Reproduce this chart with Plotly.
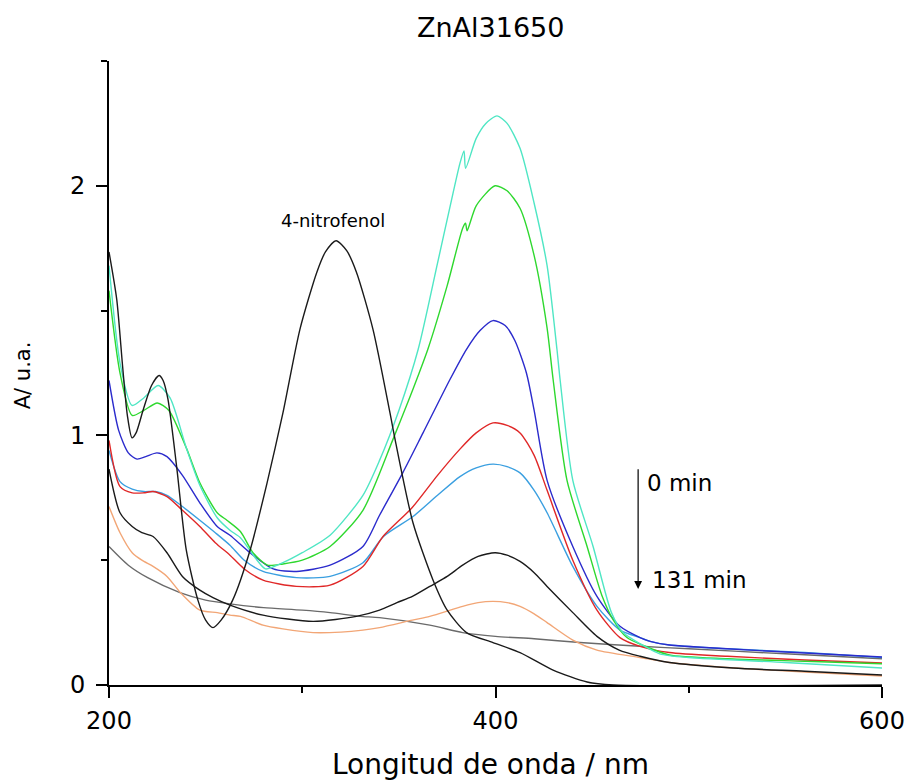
import plotly.graph_objects as go

# ---------------- data (wavelength nm, absorbance) ----------------
nitro_x = [200, 204, 207, 209.5, 211.9, 214, 217.6, 222, 225.9, 228, 230.5, 235, 240, 246, 250, 253.8, 258, 264, 273,
           281.8, 290, 298.8, 307.6, 312, 317.5, 323, 328, 336.6, 345.4, 348, 357.3, 367.7, 375, 385, 398.7, 412.7,
           429.8, 447.4, 460.8, 600]
nitro_y = [1.735, 1.545, 1.28, 1.08, 0.99, 1.01, 1.10, 1.20, 1.24, 1.22, 1.145, 0.875, 0.54, 0.34, 0.26, 0.23, 0.26, 0.34,
           0.54, 0.81, 1.09, 1.425, 1.655, 1.735, 1.78, 1.74, 1.655, 1.425, 1.09, 0.985, 0.65, 0.42, 0.30, 0.21, 0.17,
           0.13, 0.06, 0.012, 0.0, 0.0]

cyan_x = [200, 205.7, 211.9, 218, 225.4, 231.6, 240, 247, 256, 262.6, 268, 276.6, 281, 290, 300, 314.4, 331.4, 340,
          350, 360, 370, 378, 381.6, 383.7, 384.5, 390, 395, 400.8, 406, 412.7, 420, 426.7, 431.8, 433.4, 440, 450.5,
          460, 466, 476, 485, 500, 550, 600]
cyan_y = [1.68, 1.29, 1.12, 1.15, 1.20, 1.15, 0.95, 0.80, 0.67, 0.62, 0.59, 0.50, 0.465, 0.49, 0.53, 0.60, 0.76, 0.90,
          1.10, 1.345, 1.69, 1.97, 2.09, 2.14, 2.07, 2.19, 2.25, 2.28, 2.25, 2.15, 1.93, 1.68, 1.345, 1.225, 0.82, 0.555,
          0.29, 0.21, 0.16, 0.125, 0.11, 0.09, 0.068]

green_x = [200, 205.7, 212, 218, 225, 231, 240, 247, 256, 261, 268, 274.5, 282, 290, 300, 314.4, 331.4, 347, 355, 360,
           365, 375, 383, 384.5, 385.3, 390, 399.8, 406, 412.7, 420, 426.7, 429.8, 437, 447.4, 455, 461, 468, 476, 490,
           520, 560, 600]
green_y = [1.58, 1.25, 1.08, 1.10, 1.13, 1.10, 0.95, 0.81, 0.69, 0.66, 0.615, 0.53, 0.48, 0.485, 0.50, 0.555, 0.70,
           0.985, 1.14, 1.24, 1.345, 1.60, 1.83, 1.85, 1.82, 1.92, 2.00, 1.98, 1.91, 1.72, 1.43, 1.225, 0.82, 0.555, 0.36,
           0.26, 0.19, 0.16, 0.12, 0.105, 0.095, 0.085]

blue_x = [200, 205, 210, 214.5, 219, 224.8, 230, 238, 247, 256, 262.6, 273, 285, 297, 314.4, 331.4, 340, 352, 362.5,
          376.5, 385, 392, 398.7, 405, 410, 416, 420, 426.7, 440, 452.5, 464.4, 474.8, 480, 490, 520, 560, 600]
blue_y = [1.22, 1.02, 0.93, 0.905, 0.915, 0.93, 0.915, 0.84, 0.73, 0.635, 0.60, 0.53, 0.465, 0.455, 0.48, 0.555, 0.68,
          0.85, 1.01, 1.225, 1.345, 1.42, 1.46, 1.44, 1.38, 1.25, 1.10, 0.82, 0.555, 0.355, 0.235, 0.19, 0.175, 0.16,
          0.145, 0.128, 0.112]

red_x = [200, 205.7, 212, 218, 222.8, 230, 238, 247, 255, 262.6, 270, 279.7, 297, 314.4, 331.4, 341.8, 356.8, 370,
         381.6, 390, 398.7, 406, 412.7, 420, 426.7, 440, 452.5, 464.4, 474.8, 490, 520, 560, 600]
red_y = [0.98, 0.795, 0.77, 0.77, 0.775, 0.755, 0.70, 0.635, 0.57, 0.52, 0.465, 0.42, 0.395, 0.40, 0.475, 0.595, 0.71,
         0.84, 0.945, 1.01, 1.05, 1.04, 1.01, 0.92, 0.78, 0.50, 0.30, 0.19, 0.155, 0.13, 0.115, 0.10, 0.088]

lblue_x = [200, 205.7, 212, 218, 224, 230, 238, 247, 255, 262.6, 270, 279.7, 297, 314.4, 331.4, 342, 357.3, 370,
           381.6, 390, 398.7, 406, 412.7, 420, 426.7, 440, 452.5, 464.4, 474.8, 480, 490, 520, 560, 600]
lblue_y = [0.94, 0.815, 0.785, 0.775, 0.775, 0.76, 0.715, 0.66, 0.61, 0.56, 0.50, 0.455, 0.43, 0.435, 0.49, 0.595, 0.675,
           0.76, 0.835, 0.87, 0.885, 0.875, 0.85, 0.78, 0.69, 0.475, 0.315, 0.22, 0.19, 0.175, 0.16, 0.145, 0.13, 0.11]

black_x = [200, 205.7, 212, 217, 222.8, 230, 238, 247, 253.8, 262.6, 279.7, 305.6, 328, 340, 349, 357, 366, 375, 383,
           391, 399.8, 406, 412.7, 420, 426.7, 440, 452.5, 464, 474.8, 490, 523, 560, 600]
black_y = [0.865, 0.69, 0.635, 0.61, 0.595, 0.53, 0.435, 0.38, 0.35, 0.32, 0.28, 0.255, 0.275, 0.30, 0.33, 0.355, 0.395,
           0.435, 0.48, 0.515, 0.53, 0.52, 0.495, 0.45, 0.395, 0.29, 0.195, 0.14, 0.115, 0.09, 0.068, 0.055, 0.04]

orange_x = [200, 205.7, 212, 217, 222.8, 230, 237, 247, 256, 262.6, 268, 279.7, 290, 305.6, 320, 331.4, 340, 357, 366,
            383, 391, 398.7, 406, 412.7, 420, 426.7, 440, 452.5, 474.8, 490, 520, 560, 600]
orange_y = [0.715, 0.61, 0.53, 0.50, 0.475, 0.435, 0.37, 0.30, 0.29, 0.28, 0.275, 0.24, 0.225, 0.21, 0.212, 0.22, 0.23,
            0.26, 0.275, 0.315, 0.33, 0.335, 0.33, 0.315, 0.285, 0.25, 0.18, 0.14, 0.11, 0.09, 0.07, 0.052, 0.036]

gray_x = [200, 210, 220, 236.7, 250, 262.6, 280, 300, 314.4, 330, 340, 366, 383, 400, 420, 443.7, 474.8, 500, 550, 600]
gray_y = [0.555, 0.48, 0.43, 0.37, 0.34, 0.325, 0.31, 0.30, 0.29, 0.275, 0.27, 0.24, 0.21, 0.195, 0.185, 0.17, 0.155,
          0.145, 0.125, 0.105]

x_ticks = [200, 400, 600]
y_ticks = [0, 1, 2]
title_text = "ZnAl31650"
x_title = "Longitud de onda / nm"
y_title = "A/ u.a."
label_nitro = "4-nitrofenol"
label_start = "0 min"
label_end = "131 min"

FONT = "DejaVu Sans, Arial, sans-serif"

series = [
    (gray_x, gray_y, "#6a6a6a"),
    (orange_x, orange_y, "#f2a676"),
    (black_x, black_y, "#1a1a1a"),
    (lblue_x, lblue_y, "#3a9fe0"),
    (red_x, red_y, "#e02828"),
    (blue_x, blue_y, "#2b2bcc"),
    (green_x, green_y, "#2ed82e"),
    (cyan_x, cyan_y, "#4fe6c4"),
    (nitro_x, nitro_y, "#1a1a1a"),
]

fig = go.Figure()
for xs, ys, col in series:
    fig.add_trace(go.Scatter(x=xs, y=ys, mode="lines", line=dict(color=col, width=1.4, shape="spline", smoothing=0.7),
                             showlegend=False, hoverinfo="skip"))

fig.update_layout(
    width=906, height=783,
    margin=dict(l=109, r=24, t=61, b=98, autoexpand=False),
    paper_bgcolor="white", plot_bgcolor="white",
    font=dict(family=FONT, color="black"),
    xaxis=dict(range=[200, 600], tickvals=x_ticks, ticks="outside", ticklen=11, tickwidth=2, tickcolor="black",
               showline=True, linewidth=2, linecolor="black", showgrid=False, zeroline=False, automargin=False,
               tickfont=dict(size=24, family=FONT, color="black"), ticklabelstandoff=2,
               ticklabeloverflow="allow",
               minor=dict(tickvals=[300, 500], ticks="outside", ticklen=6, tickwidth=2, tickcolor="black")),
    yaxis=dict(range=[0, 2.5], tickvals=y_ticks, ticks="outside", ticklen=11, tickwidth=2, tickcolor="black",
               showline=True, linewidth=2, linecolor="black", showgrid=False, zeroline=False, automargin=False,
               tickfont=dict(size=24, family=FONT, color="black"), ticklabelstandoff=6,
               minor=dict(tickvals=[0.5, 1.5, 2.5], ticks="outside", ticklen=6, tickwidth=2, tickcolor="black")),
)

# titles
fig.add_annotation(x=0.493, y=1.053, xref="paper", yref="paper", text=title_text, showarrow=False,
                   font=dict(size=27, family=FONT, color="black"), xanchor="center", yanchor="middle")
fig.add_annotation(x=0.493, y=-0.128, xref="paper", yref="paper", text=x_title, showarrow=False,
                   font=dict(size=28, family=FONT, color="black"), xanchor="center", yanchor="middle")
fig.add_annotation(x=-0.112, y=0.497, xref="paper", yref="paper", text=y_title, showarrow=False, textangle=-90,
                   font=dict(size=21, family=FONT, color="black"), xanchor="center", yanchor="middle")

fig.add_annotation(x=316, y=1.86, text=label_nitro, showarrow=False, font=dict(size=18, family=FONT, color="black"),
                   xanchor="center", yanchor="middle")
fig.add_annotation(x=473.8, y=0.385, ax=473.8, ay=0.87, xref="x", yref="y", axref="x", ayref="y", text="",
                   showarrow=True, arrowhead=2, arrowsize=1.3, arrowwidth=1.2, arrowcolor="black")
fig.add_annotation(x=477.5, y=0.81, text=label_start, showarrow=False, font=dict(size=23, family=FONT, color="black"),
                   xanchor="left", yanchor="middle")
fig.add_annotation(x=480, y=0.42, text=label_end, showarrow=False, font=dict(size=23, family=FONT, color="black"),
                   xanchor="left", yanchor="middle")

# remove the default 8px page margin so the 906x783 figure fills the window exactly
fig.write_html("out.html", config={"displayModeBar": False},
               post_script="document.body.style.margin='0';document.body.style.overflow='hidden';")
